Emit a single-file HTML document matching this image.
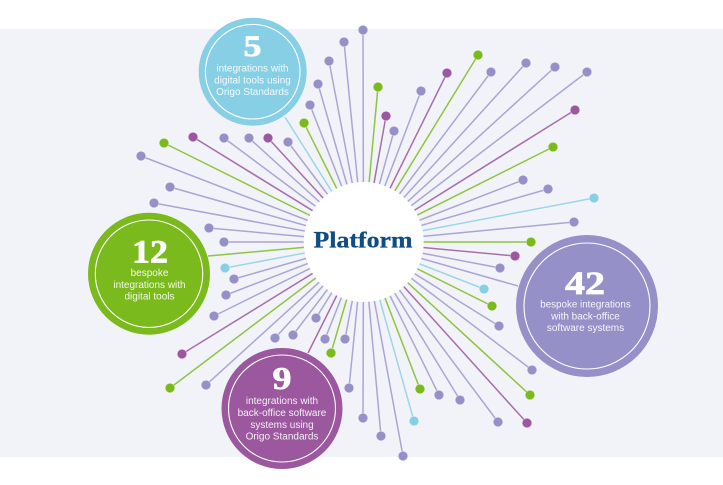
<!DOCTYPE html>
<html><head><meta charset="utf-8">
<style>
html,body{margin:0;padding:0;background:#fff}
svg{display:block}
.s{font-family:"Liberation Sans",sans-serif;font-size:10px;fill:#fff;fill-opacity:.9;text-anchor:middle}
.n{font-family:"Liberation Serif",serif;font-weight:bold;fill:#fff;stroke:#fff;stroke-width:.7;text-anchor:middle}
.ring{fill:none;stroke:#fff;stroke-width:1.1}
.l{fill:none;stroke-width:1.5}
.d circle{r:4.8px;stroke:#fff;stroke-opacity:.4;stroke-width:.8}
</style></head>
<body>
<svg xmlns="http://www.w3.org/2000/svg" width="723" height="485" viewBox="0 0 723 485">
<rect width="723" height="485" fill="#fff"/>
<rect x="0" y="29" width="723" height="428" fill="#f2f2f9"/>

<path class="l" stroke="#aaa6d4" d="M363.5 242L363 30M363.5 242L394 131M363.5 242L421 91M363.5 242L491 72M363.5 242L526 63M363.5 242L555 67M363.5 242L587 72M363.5 242L523 180M363.5 242L548 189M363.5 242L574 222M363.5 242L500 268M363.5 242L518 286M363.5 242L499 326M363.5 242L532 370M363.5 242L498 422M363.5 242L460 400M363.5 242L439 395M363.5 242L403 456M363.5 242L381 436M363.5 242L363 418M363.5 242L349 388M363.5 242L345 339M363.5 242L325 339M363.5 242L316 318M363.5 242L293 335M363.5 242L275 338M363.5 242L206 385M363.5 242L214 316M363.5 242L226 295M363.5 242L234 279M363.5 242L224 242M363.5 242L209 228M363.5 242L154 203M363.5 242L170 187M363.5 242L141 156M363.5 242L224 138M363.5 242L249 138M363.5 242L288 142M363.5 242L310 105M363.5 242L318 84M363.5 242L329 61M363.5 242L344 42"/>
<path class="l" stroke="#8fc43f" d="M363.5 242L378 87M363.5 242L478 55M363.5 242L553 147M363.5 242L531 242M363.5 242L492 306M363.5 242L530 395M363.5 242L420 389M363.5 242L331 353M363.5 242L170 388M363.5 242L208 256M363.5 242L164 143M363.5 242L304 123"/>
<path class="l" stroke="#a56fa9" d="M363.5 242L386 116M363.5 242L447 73M363.5 242L575 110M363.5 242L515 256M363.5 242L527 423M363.5 242L308 353M363.5 242L182 354M363.5 242L193 137M363.5 242L268 138"/>
<path class="l" stroke="#9cd6e6" d="M363.5 242L594 198M363.5 242L484 289M363.5 242L414 421M363.5 242L225 268M363.5 242L285 117"/>

<g class="d" fill="#9590c7">
<circle cx="363" cy="30"/><circle cx="394" cy="131"/><circle cx="421" cy="91"/><circle cx="491" cy="72"/><circle cx="526" cy="63"/><circle cx="555" cy="67"/><circle cx="587" cy="72"/><circle cx="523" cy="180"/><circle cx="548" cy="189"/><circle cx="574" cy="222"/><circle cx="500" cy="268"/><circle cx="499" cy="326"/><circle cx="532" cy="370"/><circle cx="498" cy="422"/><circle cx="460" cy="400"/><circle cx="439" cy="395"/><circle cx="403" cy="456"/><circle cx="381" cy="436"/><circle cx="363" cy="418"/><circle cx="349" cy="388"/><circle cx="345" cy="339"/><circle cx="325" cy="339"/><circle cx="316" cy="318"/><circle cx="293" cy="335"/><circle cx="275" cy="338"/><circle cx="206" cy="385"/><circle cx="214" cy="316"/><circle cx="226" cy="295"/><circle cx="234" cy="279"/><circle cx="224" cy="242"/><circle cx="209" cy="228"/><circle cx="154" cy="203"/><circle cx="170" cy="187"/><circle cx="141" cy="156"/><circle cx="224" cy="138"/><circle cx="249" cy="138"/><circle cx="288" cy="142"/><circle cx="310" cy="105"/><circle cx="318" cy="84"/><circle cx="329" cy="61"/><circle cx="344" cy="42"/>
</g>
<g class="d" fill="#7aba1c">
<circle cx="378" cy="87"/><circle cx="478" cy="55"/><circle cx="553" cy="147"/><circle cx="531" cy="242"/><circle cx="492" cy="306"/><circle cx="530" cy="395"/><circle cx="420" cy="389"/><circle cx="331" cy="353"/><circle cx="170" cy="388"/><circle cx="164" cy="143"/><circle cx="304" cy="123"/>
</g>
<g class="d" fill="#9b589e">
<circle cx="386" cy="116"/><circle cx="447" cy="73"/><circle cx="575" cy="110"/><circle cx="515" cy="256"/><circle cx="527" cy="423"/><circle cx="182" cy="354"/><circle cx="193" cy="137"/><circle cx="268" cy="138"/>
</g>
<g class="d" fill="#86cfe4">
<circle cx="594" cy="198"/><circle cx="484" cy="289"/><circle cx="414" cy="421"/><circle cx="225" cy="268"/>
</g>

<circle cx="363.7" cy="242" r="60" fill="#fff"/>
<text x="363" y="247.7" font-family="'Liberation Serif',serif" font-weight="bold" font-size="23" fill="#0f4d82" stroke="#0f4d82" stroke-width=".3" text-anchor="middle" textLength="99" lengthAdjust="spacingAndGlyphs">Platform</text>

<circle cx="252.7" cy="71.7" r="54" fill="#86cfe4"/>
<circle class="ring" cx="252.7" cy="71.7" r="47.3"/>
<text class="n" x="252.5" y="56" font-size="30" textLength="18" lengthAdjust="spacingAndGlyphs">5</text>
<text class="s" x="252.5" y="71.5">integrations with</text>
<text class="s" x="252.5" y="83.5">digital tools using</text>
<text class="s" x="252.5" y="95">Origo Standards</text>

<circle cx="149" cy="273.7" r="61" fill="#7aba1c"/>
<circle class="ring" cx="149" cy="273.7" r="53.7"/>
<text class="n" x="150" y="262.7" font-size="33" textLength="36" lengthAdjust="spacingAndGlyphs">12</text>
<text class="s" x="149.5" y="276">bespoke</text>
<text class="s" x="149.5" y="288">integrations with</text>
<text class="s" x="149.5" y="299.5">digital tools</text>

<circle cx="282" cy="408.5" r="60.5" fill="#9b589e"/>
<circle class="ring" cx="282" cy="408.5" r="53.5"/>
<text class="n" x="282" y="389" font-size="32" textLength="19" lengthAdjust="spacingAndGlyphs">9</text>
<text class="s" x="282" y="404">integrations with</text>
<text class="s" x="282" y="416">back-office software</text>
<text class="s" x="282" y="428">systems using</text>
<text class="s" x="282" y="439.5">Origo Standards</text>

<circle cx="587" cy="306" r="71" fill="#9590c7"/>
<circle class="ring" cx="587" cy="306" r="63"/>
<text class="n" x="585" y="294" font-size="33" textLength="40" lengthAdjust="spacingAndGlyphs">42</text>
<text class="s" x="585.5" y="307.5" textLength="90.5" lengthAdjust="spacingAndGlyphs">bespoke integrations</text>
<text class="s" x="585.5" y="319.5">with back-office</text>
<text class="s" x="585.5" y="331">software systems</text>
</svg>
</body></html>
